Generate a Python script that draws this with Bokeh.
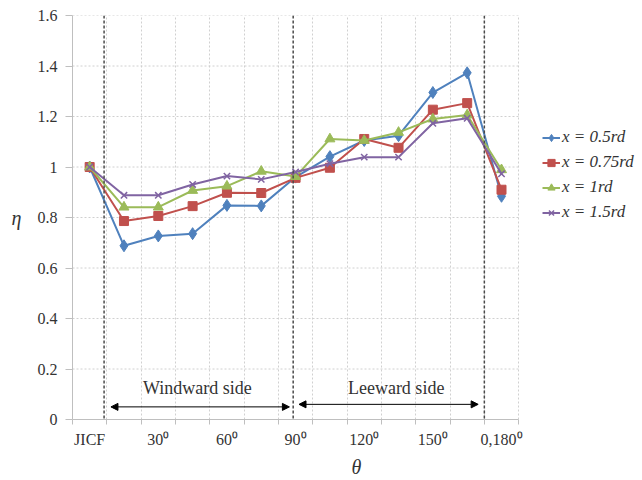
from bokeh.plotting import figure
from bokeh.models import (Range1d, FixedTicker, CustomJSTickFormatter, Legend, LegendItem,
                          Arrow, NormalHead, Span)
from bokeh.core.properties import value
from bokeh.embed import file_html
from bokeh.resources import INLINE

# ---- data ----
categories = ["JICF", "15\u2070", "30\u2070", "45\u2070", "60\u2070", "75\u2070", "90\u2070",
              "105\u2070", "120\u2070", "135\u2070", "150\u2070", "165\u2070", "0,180\u2070"]
x_idx = list(range(len(categories)))
eta_05 = [1.0, 0.688, 0.727, 0.736, 0.848, 0.846, 0.960, 1.041, 1.105, 1.124, 1.295, 1.373, 0.884]
eta_075 = [1.0, 0.786, 0.806, 0.845, 0.898, 0.897, 0.957, 0.997, 1.111, 1.076, 1.227, 1.253, 0.910]
eta_1 = [1.0, 0.841, 0.841, 0.907, 0.924, 0.983, 0.962, 1.111, 1.105, 1.137, 1.190, 1.206, 0.989]
eta_15 = [1.0, 0.888, 0.888, 0.931, 0.964, 0.951, 0.980, 1.013, 1.039, 1.039, 1.173, 1.193, 0.973]
series_labels = ["x = 0.5rd", "x = 0.75rd", "x = 1rd", "x = 1.5rd"]
y_ticks = [0, 0.2, 0.4, 0.6, 0.8, 1.0, 1.2, 1.4, 1.6]
divider_x = [0.42, 5.93, 11.5]
region_labels = ["Windward side", "Leeward side"]
region_label_x = [3.14, 8.93]
region_label_y = [0.125, 0.125]

SERIF = "'Liberation Serif', 'Times New Roman', serif"
n = len(categories)
x_lo, x_hi = -0.5, n - 0.5

# frame extends to the right to host the legend; data area ends at x_hi
p = figure(width=642, height=480, output_backend="svg", toolbar_location=None,
           x_range=Range1d(x_lo, 16.05), y_range=Range1d(0, 1.6),
           min_border_left=72, min_border_right=2, min_border_top=15, min_border_bottom=60)
p.outline_line_color = None
p.background_fill_color = "white"

# axes
p.xaxis.ticker = FixedTicker(ticks=[i for i in x_idx if i % 2 == 0],
                             minor_ticks=[i - 0.5 for i in range(n + 1)])
p.xaxis.bounds = (x_lo, x_hi)
p.xaxis.major_label_overrides = {i: categories[i] for i in x_idx if i % 2 == 0}
p.xaxis.major_tick_line_color = None
p.xaxis.minor_tick_out = 5
p.xaxis.minor_tick_in = 0
p.xaxis.minor_tick_line_color = "#bfbfbf"
p.xaxis.axis_line_color = "#bfbfbf"
p.xaxis.major_label_standoff = 5
p.xaxis.axis_label = "\u03b8"
p.xaxis.axis_label_standoff = 5

p.yaxis.ticker = FixedTicker(ticks=y_ticks)
p.yaxis.formatter = CustomJSTickFormatter(code="return tick.toFixed(1).replace(/\\.0$/, '');")
p.yaxis.major_tick_out = 7
p.yaxis.major_tick_in = 0
p.yaxis.minor_tick_line_color = None
p.yaxis.major_tick_line_color = "#bfbfbf"
p.yaxis.axis_line_color = "#bfbfbf"
p.yaxis.major_label_standoff = 8
p.yaxis.axis_label = "\u03b7"
p.yaxis.axis_label_standoff = 13
p.yaxis.axis_label_orientation = "horizontal"

for ax in (p.xaxis, p.yaxis):
    ax.major_label_text_font = SERIF
    ax.major_label_text_font_size = "16px"
    ax.major_label_text_color = "#333333"
    ax.axis_label_text_font = SERIF
    ax.axis_label_text_font_size = "20px"
    ax.axis_label_text_font_style = "italic"
    ax.axis_label_text_color = "#333333"

# grid: vertical lines at category boundaries, horizontal lines drawn only over the data area
p.xgrid.ticker = FixedTicker(ticks=[i - 0.5 for i in range(1, n + 1)])
p.xgrid.grid_line_color = "#d0d0d0"
p.xgrid.grid_line_dash = "2 2"
p.ygrid.visible = False
p.segment(x0=[x_lo] * (len(y_ticks) - 1), x1=[x_hi] * (len(y_ticks) - 1),
          y0=y_ticks[1:], y1=y_ticks[1:], line_color="#d0d0d0", line_dash="2 2",
          line_width=1, level="underlay")

# divider lines
for dx in divider_x:
    p.add_layout(Span(location=dx, dimension="height", line_color="#4a4a4a",
                      line_dash="3 2", line_width=1.5))

# arrows
for xs, xe, yy in [(0.62, 5.82, 0.05), (6.1, 11.32, 0.06)]:
    p.add_layout(Arrow(start=NormalHead(size=7, fill_color="black", line_color="black"),
                       end=NormalHead(size=7, fill_color="black", line_color="black"),
                       x_start=xs, y_start=yy, x_end=xe, y_end=yy,
                       line_color="black", line_width=1))

p.text(x=region_label_x, y=region_label_y, text=region_labels, text_font=value(SERIF),
       text_font_size="18px", text_align="center", text_baseline="middle", text_color="#333333")

# series
colors = ["#4F81BD", "#C0504D", "#9BBB59", "#8064A2"]
markers = ["diamond", "square", "triangle", "x"]
sizes = [12, 9, 10, 9]
all_series = [eta_05, eta_075, eta_1, eta_15]
items = []
for ys, c, m, s, lab in zip(all_series, colors, markers, sizes, series_labels):
    ln = p.line(x_idx, ys, line_color=c, line_width=2)
    sc = p.scatter(x_idx, ys, marker=m, size=s, fill_color=c, line_color=c,
                   line_width=1.5 if m == "x" else 1)
    items.append(LegendItem(label=lab, renderers=[ln, sc]))

legend = Legend(items=items, location=(470, 197), label_text_font=SERIF,
                label_text_font_style="italic", label_text_font_size="17px",
                label_text_color="#333333", glyph_width=18, glyph_height=19,
                label_standoff=2, spacing=5, padding=0, margin=0,
                border_line_color=None, background_fill_alpha=0)
p.add_layout(legend, "center")

open("out.html", "w").write(file_html(p, INLINE))
